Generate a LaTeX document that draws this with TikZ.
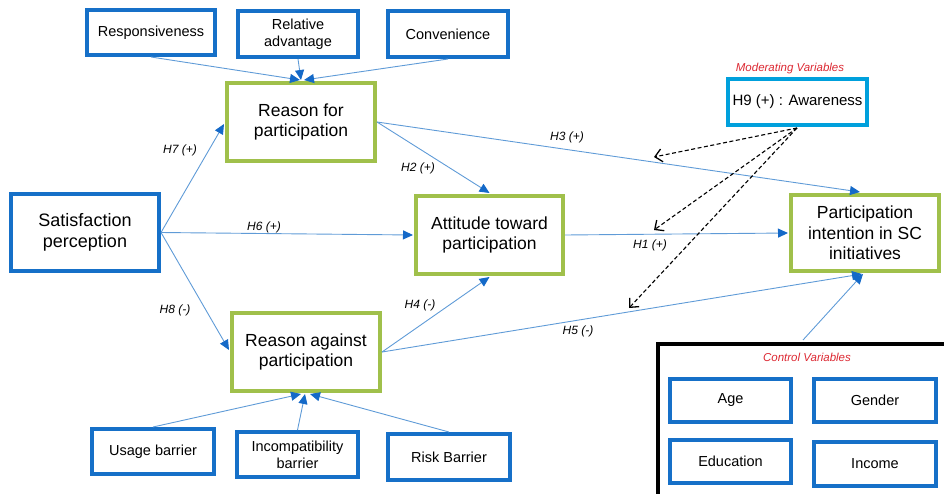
\documentclass[tikz,border=0pt]{standalone}
\usepackage{fontspec}
\setmainfont{Liberation Sans}
\usetikzlibrary{arrows.meta,calc}
\definecolor{boxblue}{RGB}{22,112,200}
\definecolor{boxgreen}{RGB}{160,192,75}
\definecolor{hnineblue}{RGB}{0,160,220}
\definecolor{lineblue}{RGB}{95,155,215}
\definecolor{tipblue}{RGB}{20,105,200}
\definecolor{labred}{RGB}{220,40,50}
\tikzset{
  bluebox/.style={draw=boxblue,line width=4pt,fill=white,align=center,inner sep=0pt,
    font=\fontsize{14.5}{17}\selectfont},
  greenbox/.style={draw=boxgreen,line width=4pt,fill=white,align=center,inner sep=0pt,
    minimum width=148pt,minimum height=78pt,font=\fontsize{17.5}{20.5}\selectfont},
  link/.style={draw=lineblue,line width=0.9pt,-{Triangle[length=10pt,width=9pt,color=tipblue]}},
  modlink/.style={draw=black,line width=1.1pt,dash pattern=on 4pt off 2.5pt,-{Straight Barb[length=7pt,width=13pt,line width=1.3pt]}},
  hyp/.style={font=\fontsize{12}{14}\selectfont\itshape},
  redlab/.style={text=labred,font=\fontsize{11.5}{14}\selectfont\itshape}
}
\begin{document}
\begin{tikzpicture}[x=1pt,y=-1pt]
\useasboundingbox (0,0) rectangle (944,493);
\clip (0,0) rectangle (944,493);
% top factors
\node[bluebox,minimum width=128pt,minimum height=45pt] (resp) at (151,32.5) {Responsiveness};
\node[bluebox,minimum width=120pt,minimum height=46pt] (relad) at (298,34) {Relative\\advantage};
\node[bluebox,minimum width=120pt,minimum height=46pt] (conv) at (448,34) {Convenience};
% main constructs
\node[greenbox] (rfor) at (301,122) {Reason for\\participation};
\node[bluebox,minimum width=148pt,minimum height=77pt,font=\fontsize{18}{21}\selectfont] (sat) at (85,232.5) {Satisfaction\\perception};
\node[greenbox,minimum width=147pt] (att) at (489.5,235) {Attitude toward\\participation};
\node[greenbox] (ragainst) at (306,352) {Reason against\\participation};
\node[greenbox,minimum height=76pt,font=\fontsize{17.5}{20.5}\selectfont] (pint) at (865,233) {Participation\\intention in SC\\initiatives};
% bottom factors
\node[bluebox,minimum width=122pt,minimum height=45pt] (usage) at (153,451.5) {Usage barrier};
\node[bluebox,minimum width=121pt,minimum height=45pt] (incomp) at (297.5,454.5) {Incompatibility\\barrier};
\node[bluebox,minimum width=122pt,minimum height=46pt] (risk) at (449,457) {Risk Barrier};
% moderator
\node[draw=hnineblue,line width=4pt,fill=white,inner sep=0pt,minimum width=139pt,minimum height=46pt,
  font=\fontsize{15}{17}\selectfont] (h9) at (797.5,102) {H9 (+) : Awareness};
\node[redlab] (modlab) at (790,69) {Moderating Variables};
% control variables
\node[draw=black,line width=4pt,inner sep=0pt,minimum width=300pt,minimum height=170pt,anchor=north west] (ctrl) at (656,342) {};
\node[redlab] (ctrllab) at (807,357) {Control Variables};
\node[bluebox,minimum width=121pt,minimum height=43pt] (age) at (730.5,400.5) {Age};
\node[bluebox,minimum width=122pt,minimum height=43pt] (gender) at (875,400.5) {Gender};
\node[bluebox,minimum width=121pt,minimum height=43pt] (educ) at (730.5,461.5) {Education};
\node[bluebox,minimum width=122pt,minimum height=44pt] (income) at (875,464) {Income};
% connectors from factors
\draw[link] (resp.south) -- ($(rfor.north)+(-1,-1)$);
\draw[link] (relad.south) -- ($(rfor.north)+(0,-1)$);
\draw[link] (conv.south) -- ($(rfor.north)+(3,-1)$);
\draw[link] (usage.north) -- ($(ragainst.south)+(-5,1)$);
\draw[link] (incomp.north) -- ($(ragainst.south)+(-1,1)$);
\draw[link] (risk.north) -- ($(ragainst.south)+(4,1)$);
% hypotheses
\draw[link] (sat.east) -- ($(rfor.west)+(-1,2)$);
\draw[link] (sat.east) -- ($(att.west)+(-1,0)$);
\draw[link] (sat.east) -- ($(ragainst.west)+(-1,-2)$);
\draw[link] (rfor.east) -- ($(att.north)+(0,-1)$);
\draw[link] (rfor.east) -- ($(pint.north)+(-5,-1)$);
\draw[link] (att.east) -- ($(pint.west)+(-1,0)$);
\draw[link] (ragainst.east) -- ($(att.south)+(0,1)$);
\draw[link] (ragainst.east) -- ($(pint.south)+(-3,1)$);
\coordinate (ctrltop) at (803,340);
\draw[link] (ctrltop) -- ($(pint.south)+(-2,1)$);
% moderating arrows
\coordinate (hnb) at (797,128);
\coordinate (m1) at (654,157);
\coordinate (m2) at (654,230);
\coordinate (m3) at (629,308);
\draw[modlink] (hnb) -- (m1);
\draw[modlink] (hnb) -- (m2);
\draw[modlink] (hnb) -- (m3);
% labels
\node[hyp] (l7) at (180,150) {H7 (+)};
\node[hyp] (l6) at (264,227) {H6 (+)};
\node[hyp] (l8) at (175,310) {H8 (-)};
\node[hyp] (l2) at (418,168) {H2 (+)};
\node[hyp] (l3) at (567,137) {H3 (+)};
\node[hyp] (l1) at (650,245) {H1 (+)};
\node[hyp] (l4) at (420,305) {H4 (-)};
\node[hyp] (l5) at (578,331) {H5 (-)};
\end{tikzpicture}
\end{document}
